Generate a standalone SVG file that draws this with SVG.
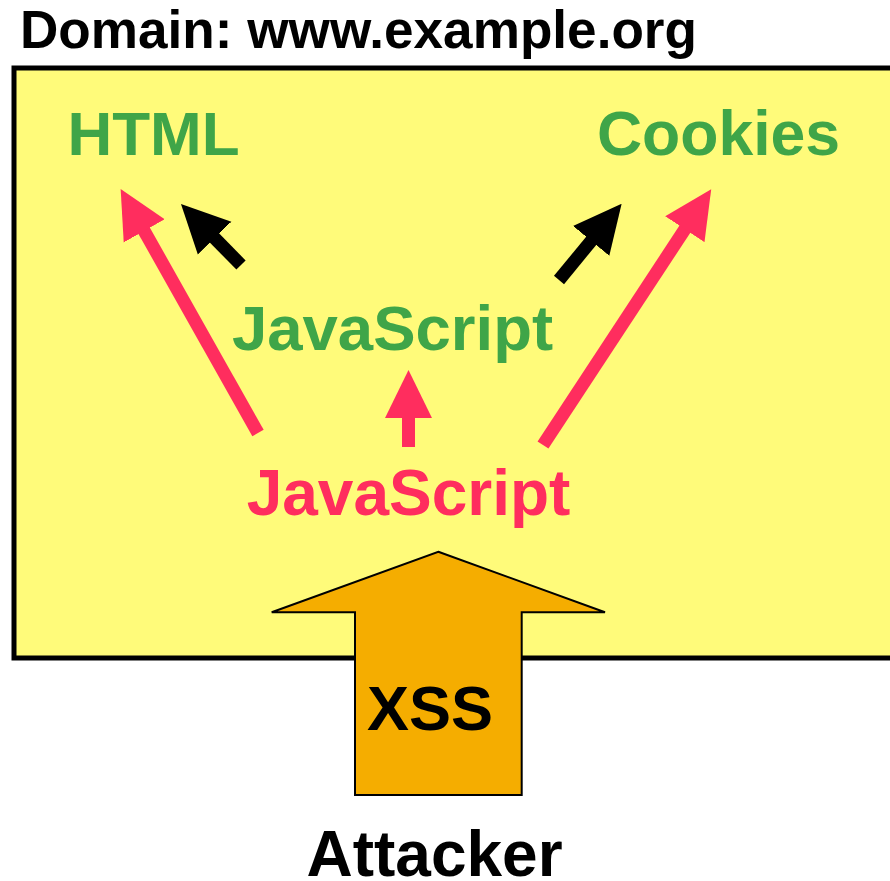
<svg xmlns="http://www.w3.org/2000/svg" width="890" height="881" viewBox="0 0 890 881">
  <style>
    text { font-family: "Liberation Sans", Arial, sans-serif; font-weight: bold; }
    .green { fill: #3fa548; }
    .red { fill: #ff2d5e; }
    .dark { fill: #000000; }
    .shaft-red { stroke: #ff2d5e; stroke-width: 13; fill: none; marker-end: url(#head-red); }
    .shaft-black { stroke: #000000; stroke-width: 13; fill: none; marker-end: url(#head-black); }
  </style>
  <defs>
    <marker id="head-red" markerUnits="userSpaceOnUse" markerWidth="48" markerHeight="48" viewBox="-1 -23 47 46" refX="0" refY="0" orient="auto">
      <path d="M-1,-23 L46,0 L-1,23 Z" fill="#ff2d5e"/>
    </marker>
    <marker id="head-black" markerUnits="userSpaceOnUse" markerWidth="48" markerHeight="48" viewBox="-1 -23 47 46" refX="0" refY="0" orient="auto">
      <path d="M-1,-23 L46,0 L-1,23 Z" fill="#000000"/>
    </marker>
  </defs>

  <rect width="890" height="881" fill="#ffffff"/>

  <!-- domain box -->
  <g id="domain">
    <text x="20" y="48" font-size="53" textLength="677" lengthAdjust="spacingAndGlyphs" class="dark">Domain: www.example.org</text>
    <rect x="14" y="68" width="890" height="590" fill="#fffb7a" stroke="#000000" stroke-width="5"/>
  </g>

  <g id="html">
    <text x="153.5" y="155" font-size="62" text-anchor="middle" class="green">HTML</text>
  </g>
  <g id="cookies">
    <text x="718.5" y="155" font-size="62.5" text-anchor="middle" class="green">Cookies</text>
  </g>
  <g id="page-js">
    <text x="392.5" y="350" font-size="63.5" text-anchor="middle" class="green">JavaScript</text>
  </g>
  <g id="injected-js">
    <text x="408.5" y="515" font-size="64" text-anchor="middle" class="red">JavaScript</text>
  </g>

  <!-- connectors -->
  <g id="connectors">
    <line x1="258" y1="433" x2="143.7" y2="230" class="shaft-red"/>
    <line x1="543" y1="445" x2="685.4" y2="228.4" class="shaft-red"/>
    <line x1="408.5" y1="447" x2="408.5" y2="417" class="shaft-red"/>
    <line x1="241" y1="265" x2="213.9" y2="237.4" class="shaft-black"/>
    <line x1="559" y1="280" x2="591.8" y2="240.1" class="shaft-black"/>
  </g>

  <!-- attack arrow -->
  <g id="xss">
    <polygon points="438.3,551.7 605,612.3 521.7,612.3 521.7,795 355,795 355,612.3 271.7,612.3" fill="#f5ad00" stroke="#000000" stroke-width="2" stroke-linejoin="miter"/>
    <text x="430" y="730" font-size="63" text-anchor="middle" class="dark">XSS</text>
  </g>

  <g id="attacker">
    <text x="434.5" y="876" font-size="64" text-anchor="middle" class="dark">Attacker</text>
  </g>
</svg>
